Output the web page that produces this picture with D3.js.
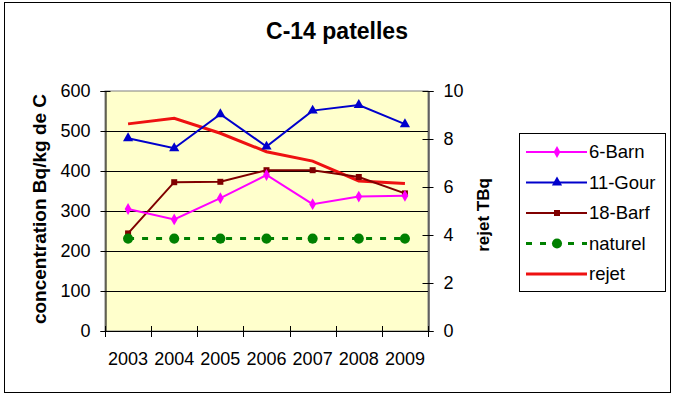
<!DOCTYPE html>
<html>
<head>
<meta charset="utf-8">
<script src="https://cdn.jsdelivr.net/npm/d3@7"></script>
<style>
  body { margin: 0; background: #fff; }
  text { font-family: Arial, "Liberation Sans", sans-serif; }
</style>
</head>
<body>
<div id="chart"></div>
<script>
// chart values
var years = ["2003", "2004", "2005", "2006", "2007", "2008", "2009"];
var barn = [305, 279, 332, 390, 317, 336, 338];
var gour = [482, 457, 542, 461, 551, 565, 517];
var barf = [244, 372, 373, 402, 402, 385, 344];
var naturel = [231, 231, 231, 231, 231, 231, 231];
var rejet = [8.63, 8.86, 8.24, 7.47, 7.08, 6.25, 6.15];
var leftTicks = [0, 100, 200, 300, 400, 500, 600];
var rightTicks = [0, 2, 4, 6, 8, 10];

var svgWidth = 673;
var svgHeight = 396;
var plot = { left: 105, right: 428, top: 91, bottom: 331 };

var svg = d3.select("#chart")
    .append("svg")
    .attr("width", svgWidth)
    .attr("height", svgHeight);

// outer frame
svg.append("rect")
    .attr("x", 4.5).attr("y", 2.5)
    .attr("width", 666).attr("height", 390)
    .attr("fill", "#fff")
    .attr("stroke", "#000");

var x = d3.scaleBand()
    .domain(years)
    .range([plot.left, plot.right]);
var yLeft = d3.scaleLinear()
    .domain([0, 600])
    .range([plot.bottom, plot.top]);
var yRight = d3.scaleLinear()
    .domain([0, 10])
    .range([plot.bottom, plot.top]);
var cx = d => x(d) + x.bandwidth() / 2;

// plot background
svg.append("rect")
    .attr("x", plot.left).attr("y", plot.top)
    .attr("width", plot.right - plot.left)
    .attr("height", plot.bottom - plot.top)
    .attr("fill", "#ffffcc")
    .attr("stroke", "#808080");

// gridlines
svg.append("g")
    .selectAll("line")
    .data(leftTicks.filter(t => t > 0 && t < 600))
    .enter()
    .append("line")
    .attr("x1", plot.left).attr("x2", plot.right)
    .attr("y1", d => Math.round(yLeft(d)) + 0.5)
    .attr("y2", d => Math.round(yLeft(d)) + 0.5)
    .attr("stroke", "#000");

// left axis
var gLeft = svg.append("g")
    .attr("transform", `translate(${plot.left + 0.5},0)`)
    .call(d3.axisLeft(yLeft).tickValues(leftTicks).tickSize(5).tickPadding(10));
gLeft.selectAll(".tick line").attr("x1", 5);
gLeft.selectAll(".tick text").attr("font-size", "18px").attr("fill", "#000").attr("font-family", null);

// right axis
var gRight = svg.append("g")
    .attr("transform", `translate(${plot.right + 0.5},0)`)
    .call(d3.axisRight(yRight).tickValues(rightTicks).tickSize(5).tickPadding(10));
gRight.selectAll(".tick line").attr("x1", -6);
gRight.selectAll(".tick text").attr("font-size", "18px").attr("fill", "#000").attr("font-family", null);

// bottom axis
svg.append("line")
    .attr("x1", plot.left).attr("x2", plot.right + 1)
    .attr("y1", plot.bottom + 0.5).attr("y2", plot.bottom + 0.5)
    .attr("stroke", "#000");
svg.append("g")
    .selectAll("line")
    .data(years.map(x).concat([plot.right]))
    .enter()
    .append("line")
    .attr("x1", d => Math.round(d) + 0.5).attr("x2", d => Math.round(d) + 0.5)
    .attr("y1", plot.bottom - 5).attr("y2", plot.bottom + 6)
    .attr("stroke", "#000");
svg.append("g")
    .selectAll("text")
    .data(years)
    .enter()
    .append("text")
    .attr("x", cx)
    .attr("y", 365)
    .attr("text-anchor", "middle")
    .attr("font-size", "18px")
    .text(d => d);

// axis titles
svg.append("text")
    .attr("transform", "translate(46,209) rotate(-90)")
    .attr("text-anchor", "middle")
    .attr("font-size", "19px")
    .attr("font-weight", "bold")
    .text("concentration Bq/kg de C");
svg.append("text")
    .attr("transform", "translate(489,215) rotate(-90)")
    .attr("text-anchor", "middle")
    .attr("font-size", "17px")
    .attr("font-weight", "bold")
    .text("rejet TBq");

// title
svg.append("text")
    .attr("x", 337).attr("y", 39)
    .attr("text-anchor", "middle")
    .attr("font-size", "23px")
    .attr("font-weight", "bold")
    .text("C-14 patelles");

var series = [
  { name: "6-Barn", values: barn, scale: yLeft, color: "#ff00ff", width: 2, symbol: d3.symbolDiamond, size: 40 },
  { name: "11-Gour", values: gour, scale: yLeft, color: "#0000cc", width: 2, symbol: d3.symbolTriangle, size: 45 },
  { name: "18-Barf", values: barf, scale: yLeft, color: "#800000", width: 2, symbol: d3.symbolSquare, size: 36 },
  { name: "naturel", values: naturel, scale: yLeft, color: "#008000", width: 3, dash: "6,8", symbol: d3.symbolCircle, size: 80 },
  { name: "rejet", values: rejet, scale: yRight, color: "#ee1111", width: 3, symbol: null }
];

var drawOrder = [4, 2, 0, 1, 3];
drawOrder.forEach(function (i) {
  var s = series[i];
  var line = d3.line()
      .x((d, j) => cx(years[j]))
      .y(d => s.scale(d));
  svg.append("path")
      .datum(s.values)
      .attr("d", line)
      .attr("fill", "none")
      .attr("stroke", s.color)
      .attr("stroke-width", s.width)
      .attr("stroke-dasharray", s.dash || null);
  if (s.symbol) {
    svg.append("g")
        .selectAll("path")
        .data(s.values)
        .enter()
        .append("path")
        .attr("transform", (d, j) => `translate(${cx(years[j])},${s.scale(d)})`)
        .attr("d", d3.symbol().type(s.symbol).size(s.size))
        .attr("fill", s.color);
  }
});

// legend
var legend = svg.append("g");
legend.append("rect")
    .attr("x", 519.5).attr("y", 133.5)
    .attr("width", 146).attr("height", 158)
    .attr("fill", "#fff")
    .attr("stroke", "#000");
var rowY = d3.scaleLinear().domain([0, 4]).range([152, 274]);
series.forEach(function (s, i) {
  var y = rowY(i);
  legend.append("line")
      .attr("x1", 526).attr("x2", 587)
      .attr("y1", y).attr("y2", y)
      .attr("stroke", s.color)
      .attr("stroke-width", s.width)
      .attr("stroke-dasharray", s.dash || null);
  if (s.symbol) {
    legend.append("path")
        .attr("transform", `translate(557,${y})`)
        .attr("d", d3.symbol().type(s.symbol).size(s.size))
        .attr("fill", s.color);
  }
  legend.append("text")
      .attr("x", 589).attr("y", y + 6)
      .attr("font-size", "18.5px")
      .text(s.name);
});
</script>
</body>
</html>
